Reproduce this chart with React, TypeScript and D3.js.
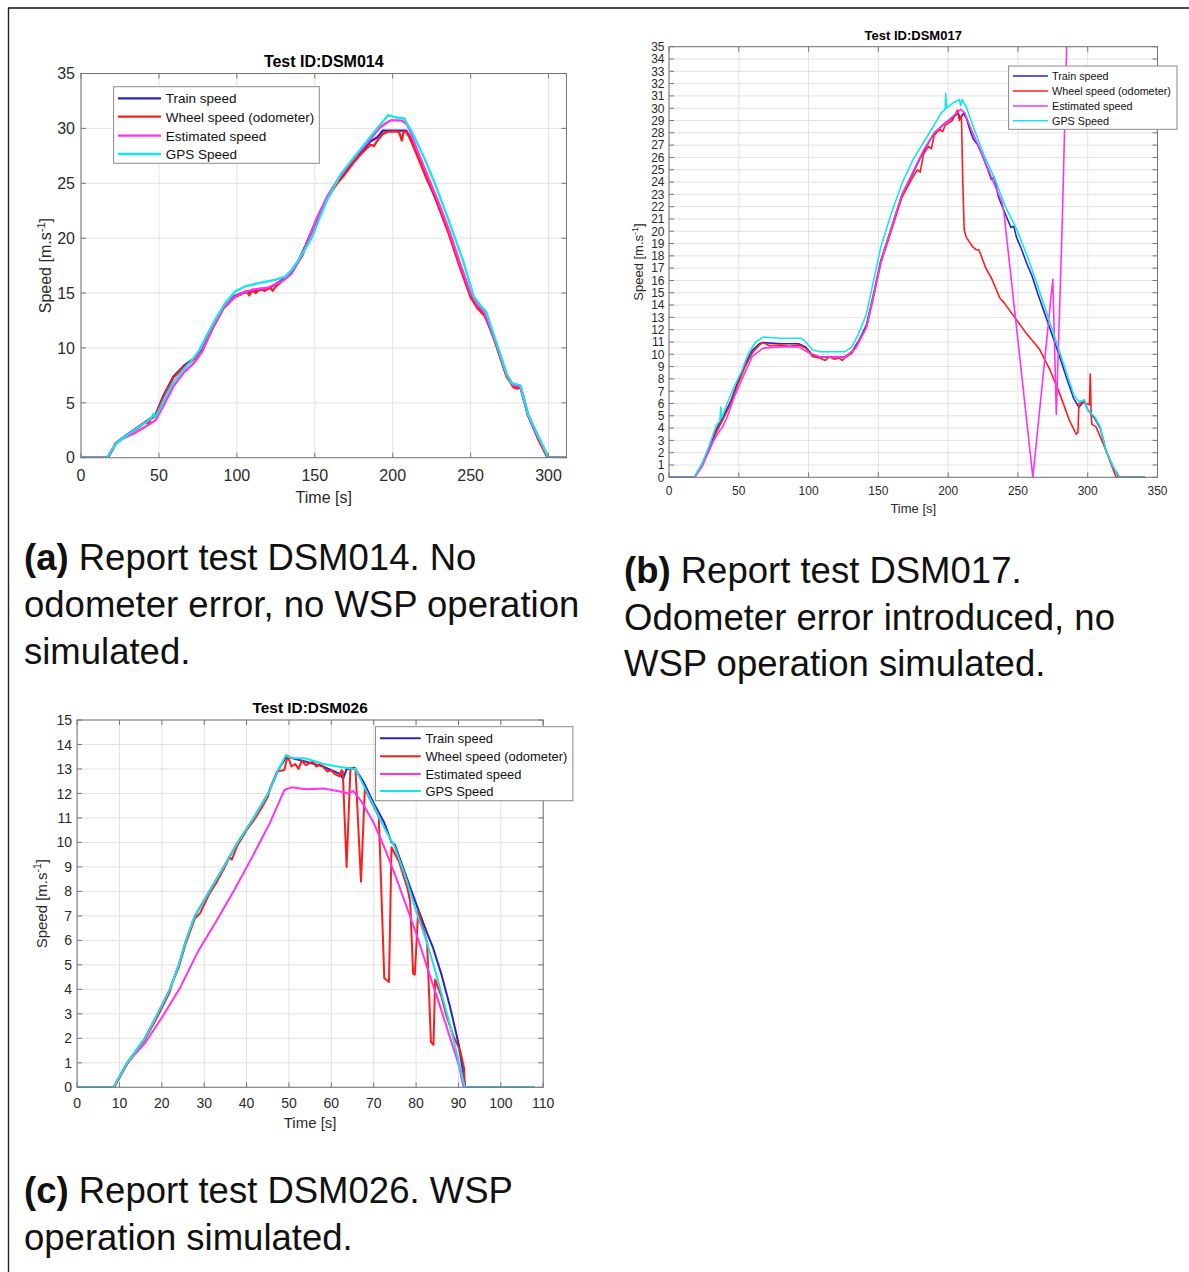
import React from 'react';
import * as d3 from 'd3';

type Pt = [number, number];

// ---------------- DATA ----------------
const seriesLabels = ['Train speed', 'Wheel speed (odometer)', 'Estimated speed', 'GPS Speed'];

// Panel (a) DSM014
const dsm014Train: Pt[] = [[0,0],[17.2,0],[22.5,1.35],[29.4,2.1],[36.3,2.75],[43.2,3.45],[47.8,3.9],[52.4,5.5],[59.3,7.4],[66.2,8.4],[73,9.1],[77.6,9.8],[84.5,11.9],[91.4,13.7],[98.3,14.7],[102.9,15.0],[112,15.2],[121.3,15.5],[128.2,16.1],[135,16.9],[139.7,18.0],[144.3,19.4],[151.2,21.7],[158,23.7],[165,25.3],[171.8,26.5],[178.7,27.7],[185.6,28.8],[190.2,29.2],[193.7,29.8],[208.6,29.8],[211,29.2],[215.5,27.7],[222.4,25.3],[229.3,23.0],[236,20.5],[243,17.5],[250,14.7],[254.5,13.7],[259,13.0],[266,10.5],[273,7.5],[277.5,6.5],[282,6.4],[286.7,3.9],[293.6,1.7],[299.5,0],[311.5,0]];
const dsm014Wheel: Pt[] = [[0,0],[17.2,0],[22.5,1.3],[29.4,2.06],[36.3,2.67],[40,3.1],[42,3.3],[43.2,3.0],[44.5,3.5],[47.8,3.8],[52.4,5.4],[59.3,7.3],[66.2,8.3],[70,8.7],[73,9.0],[77.6,9.7],[84.5,11.8],[91.4,13.6],[98.3,14.6],[102.9,14.9],[106,15.2],[108,14.8],[110,15.3],[112,15.0],[115,15.4],[118,15.2],[121.3,15.5],[123,15.2],[125,15.6],[128.2,16.0],[132,16.4],[135,16.8],[139.7,17.9],[142,18.4],[144.3,19.3],[151.2,21.6],[154,22.4],[158,23.6],[162,24.5],[165,25.1],[168,25.6],[171.8,26.3],[175,26.9],[178.7,27.5],[182,28.0],[185.6,28.5],[188,28.4],[190.2,28.9],[193.7,29.5],[197,29.7],[204,29.7],[205.8,28.9],[207,29.7],[208.6,29.7],[211,29.1],[215.5,27.6],[222.4,25.2],[226,24.2],[229.3,22.9],[236,20.4],[243,17.4],[250,14.6],[254.5,13.6],[259,12.9],[262,12.0],[266,10.4],[273,7.4],[277.5,6.4],[280,6.3],[282,6.4],[283.5,5.8],[286.7,3.9],[293.6,1.6],[299.3,0],[311.5,0]];
const dsm014Estimated: Pt[] = [[0,0],[16.8,0],[22.5,1.3],[27,1.76],[34,2.2],[40.9,2.8],[47.8,3.4],[52.4,4.6],[59.3,6.5],[66.2,7.8],[73,8.7],[77.6,9.65],[84.5,11.9],[91.4,13.7],[98.3,14.6],[102.9,15.0],[110,15.3],[120,15.5],[128,16.0],[135,16.8],[140,18.0],[145,19.5],[151.2,21.8],[158,23.8],[165,25.4],[171.8,26.7],[178.7,27.9],[185.6,29.0],[192,30.1],[197,30.6],[199,30.75],[206,30.7],[209,30.4],[211,29.8],[215.5,28.1],[222.4,25.7],[229.3,23.3],[236,20.8],[243,17.8],[250,15.0],[254.5,13.9],[259,13.2],[266,10.6],[273,7.6],[277.5,6.6],[282,6.5],[286.7,4.0],[293.6,1.8],[300,0],[311.5,0]];
const dsm014Gps: Pt[] = [[0,0],[16.8,0],[20,0.8],[23.4,1.4],[28.7,2.0],[35,2.6],[41.5,3.2],[45,3.6],[46.5,4.0],[47.5,3.7],[50,4.3],[54.3,5.6],[58.5,6.7],[64.9,7.9],[71.3,8.9],[75.5,9.7],[79.8,10.9],[86.2,12.6],[92.6,14.1],[98.9,15.15],[105.3,15.6],[113.8,15.9],[124.5,16.2],[130.9,16.5],[135.1,17.1],[139.4,18.0],[144.7,19.2],[148.9,20.3],[153,21.8],[158,23.5],[167,25.9],[178.7,28.0],[190,30.0],[197,31.2],[202,31.0],[207.4,30.9],[213,29.5],[220,27.4],[227,25.0],[236,21.6],[245,18.0],[252,14.7],[257,13.75],[260,13.3],[266,10.7],[273,7.7],[276,6.8],[282,6.6],[286.7,4.0],[293.6,1.9],[300,0],[311.5,0]];

// Panel (b) DSM017
const dsm017Train: Pt[] = [[0,0],[18.2,0],[23.8,1.1],[28.9,2.4],[34,3.9],[39.1,5.0],[44.3,6.2],[49.4,7.8],[54.5,9.2],[59.6,10.3],[64.7,10.85],[67.3,10.95],[80,10.85],[92.9,10.85],[98,10.6],[103,9.9],[108,9.8],[118.5,9.75],[126,9.8],[131,10.2],[136,11.1],[141.5,12.4],[146.6,14.9],[151.7,17.6],[159.4,20.3],[167,23.0],[174.7,24.7],[182.4,26.5],[190,28.0],[197.8,28.8],[202.9,29.2],[207,29.6],[209,29.2],[211,29.6],[213,29.2],[215.7,28.2],[218,27.5],[220.8,27.1],[224,26.3],[228.5,25.0],[231,24.2],[233,24.4],[236,22.8],[241.3,21.3],[245,20.3],[247,20.4],[249,19.5],[252,18.7],[256.6,17.3],[260,16.4],[264.3,14.9],[272,12.4],[279.6,9.9],[284.8,8.1],[290,6.4],[293.7,5.7],[297.6,6.2],[300,5.5],[305,4.8],[309,4.0],[313,2.2],[318,0.9],[322.5,0],[341,0]];
const dsm017Wheel: Pt[] = [[0,0],[18.4,0],[23.8,1.0],[28.9,2.2],[34,3.7],[39.1,4.8],[44.3,6.0],[49.4,7.6],[54.5,9.0],[59.6,10.1],[64.7,10.75],[67.3,10.95],[72,10.7],[80,10.75],[86,10.65],[92.9,10.75],[98,10.5],[103,9.8],[108,9.7],[112,9.5],[115,9.8],[118.5,9.6],[122,9.7],[124,9.5],[126,9.7],[131,10.1],[136,11.0],[141.5,12.2],[146.6,14.7],[151.7,17.4],[159.4,20.1],[167,22.8],[174.7,24.4],[178,25.0],[180,24.8],[182.4,26.3],[186,26.9],[188,26.7],[190,27.8],[194,28.3],[196,28.1],[197.8,28.6],[202.9,29.0],[206.7,29.85],[208,29.0],[209.5,29.4],[210.5,24.0],[211.5,20.1],[213,19.5],[217.8,18.7],[220,18.5],[222,18.5],[227,17.0],[229,16.6],[231,16.2],[236.9,14.6],[240,14.2],[246.4,13.2],[256,11.7],[265.5,10.4],[272.7,8.8],[279.9,6.8],[287,4.6],[291.8,3.5],[293,3.66],[293.7,6.0],[296.6,6.1],[299,6.0],[301.2,5.9],[301.8,8.4],[302.5,5.0],[303,4.3],[306,4.1],[313,2.2],[320,0.1],[321,0],[341,0]];
const dsm017Estimated: Pt[] = [[0,0],[18.4,0],[23.8,0.87],[28,2.0],[31.5,2.9],[36.6,3.85],[38,4.0],[41.7,4.9],[46.8,6.55],[51.9,7.9],[59.6,9.8],[67.3,10.5],[80,10.6],[92.9,10.6],[100.5,10.1],[108,9.8],[126,9.75],[133.8,10.5],[141.5,12.2],[146.6,14.8],[151.7,17.5],[159.4,20.3],[167,23.0],[174.7,24.8],[182.4,26.6],[190,28.0],[195.2,28.5],[200,29.0],[205,29.5],[209,29.9],[212,29.6],[215.7,28.5],[223,26.6],[231,24.4],[238.7,22.3],[240,21.5],[260.7,0],[275,16.1],[277.5,5.1],[281.8,20.9],[286,40]];
const dsm017Gps: Pt[] = [[0,0],[17.9,0],[23.8,1.14],[28.9,2.6],[34,4.25],[36.5,4.6],[37.1,5.7],[37.6,4.8],[41.7,6.0],[46.8,7.4],[51.9,8.6],[57,10.1],[62.2,11.0],[67.3,11.4],[80,11.3],[95,11.3],[98,11.0],[103,10.35],[108,10.2],[126,10.2],[131,10.6],[136,11.7],[141.5,13.3],[146.6,16.0],[151.7,18.7],[159.4,21.5],[167,23.9],[174.7,25.8],[185,27.7],[195,29.6],[197.8,29.9],[198.3,31.2],[198.8,30.0],[203,30.4],[208,30.7],[209,30.2],[210,30.7],[213,30.1],[218,28.5],[226,26.1],[233.6,24.2],[241,22.0],[249,20.2],[256.6,18.0],[264,15.6],[272,12.9],[279.6,10.3],[284.8,8.5],[290,6.7],[293.7,6.15],[297.6,6.3],[300,5.5],[305,4.9],[309,4.1],[313,2.2],[318,0.9],[323,0],[341,0]];

// Panel (c) DSM026
const dsm026Train: Pt[] = [[0,0],[8.6,0],[11.8,1],[16,2],[19,3],[21.9,4],[24,5],[25.7,6],[27.8,7],[31.2,8],[34.6,9],[37.9,10],[41.7,11],[45.1,12],[47.6,13],[49.4,13.5],[54,13.3],[58,13.1],[62,12.8],[62.8,12.6],[63.6,13.0],[65.5,13.05],[67.5,12.5],[70,11.6],[72.5,10.8],[74.2,10.0],[75,9.9],[77.5,8.7],[80,7.5],[82.6,6.3],[84,5.7],[86,4.6],[88,3.3],[90,1.8],[91.4,0.3],[91.6,0],[108,0]];
const dsm026Wheel: Pt[] = [[0,0],[8.8,0],[11.8,0.95],[16,1.95],[19,2.9],[21.9,3.9],[22.5,4.3],[24,4.9],[25.7,5.9],[27.8,6.9],[29,7.1],[31.2,7.9],[33,8.4],[34.6,8.9],[36,9.4],[36.5,9.3],[37.9,9.9],[40,10.5],[41.7,10.9],[43.5,11.4],[45.1,11.9],[45.5,12.2],[47.2,12.9],[48.9,12.96],[49.7,13.55],[50.6,13.1],[51.5,13.2],[52.3,13.0],[53,13.35],[54,13.16],[55.6,13.3],[56.5,13.1],[57.3,13.2],[58,13.1],[59,12.9],[60,12.95],[60.7,12.8],[62,12.7],[62.4,12.95],[62.7,12.9],[63.6,9.0],[64.5,13.0],[65.7,13.0],[67,8.4],[67.9,12.2],[69,11.8],[71.2,11.05],[72.5,4.45],[73.6,4.3],[74.2,9.8],[76,9.2],[78,8.1],[78.6,7.6],[79.3,4.65],[79.7,4.6],[80.5,7.2],[81.5,6.6],[82.6,5.9],[83.5,1.86],[84.1,1.73],[84.5,4.4],[86,3.7],[87.2,2.9],[88.8,2.1],[90.4,1.5],[91.3,0.8],[91.5,0],[108,0]];
const dsm026Estimated: Pt[] = [[0,0],[8.6,0],[11.8,1.0],[16,1.8],[20.2,2.9],[24.4,4.1],[28.7,5.6],[32.9,6.8],[37.1,8.06],[41.3,9.4],[45.5,10.8],[48.9,12.14],[50.6,12.25],[54,12.17],[58.2,12.2],[62.4,12.07],[64,12.0],[65.2,12.1],[67,11.7],[70,10.8],[72.5,9.8],[75,8.7],[77.5,7.5],[80,6.3],[82.6,4.9],[85.1,3.6],[87.7,2.2],[90.2,0.84],[91.2,0],[108,0]];
const dsm026Gps: Pt[] = [[0,0],[8.6,0],[11.8,1],[16,2],[19,3],[21.9,4],[24,5],[25.7,6],[27.8,7],[31.2,8],[34.6,9],[37.9,10],[41.7,11],[45.1,12],[47.6,13],[49.3,13.57],[50.5,13.45],[54,13.43],[58.2,13.2],[62.4,13.07],[65.7,13.0],[67.4,12.4],[70,11.5],[72.5,10.6],[75,9.8],[77.5,8.6],[80,7.2],[82.6,5.9],[85.1,4.4],[87.7,2.75],[89.8,1.25],[91.5,0],[108,0]];

const ticksA_x = [0, 50, 100, 150, 200, 250, 300];
const ticksA_y = [0, 5, 10, 15, 20, 25, 30, 35];
const ticksB_x = [0, 50, 100, 150, 200, 250, 300, 350];
const ticksB_y = d3.range(0, 36, 1);
const ticksC_x = [0, 10, 20, 30, 40, 50, 60, 70, 80, 90, 100, 110];
const ticksC_y = d3.range(0, 16, 1);

// ---------------- STYLE ----------------
const FONT = "'Liberation Sans', Arial, Helvetica, sans-serif";
const seriesColors = ['#2424c8', '#ff1c1c', '#ff33ee', '#14e6ea'];

interface PanelCfg {
  id: string;
  title: string;
  series: Pt[][];
  xDomain: [number, number];
  yDomain: [number, number];
  xTicks: number[];
  yTicks: number[];
  left: number; right: number; top: number; bottom: number;
  tickFont: number; labelFont: number; titleFont: number; legendFont: number;
  titleY: number; xTickY: number; yTickGap: number; xLabelY: number; yLabelX: number;
  tickLen: number; lineW: number;
  legend: { x0: number; x1: number; y0: number; y1: number; rows: number[]; lx0: number; lx1: number; tx: number };
}

function Panel({ c }: { c: PanelCfg }) {
  const x = d3.scaleLinear().domain(c.xDomain).range([c.left, c.right]);
  const y = d3.scaleLinear().domain(c.yDomain).range([c.bottom, c.top]);
  const line = d3.line<Pt>().x(d => x(d[0])).y(d => y(d[1]));
  const axisCol = '#767676';
  const gridCol = '#e2e2e2';
  const cx = (c.left + c.right) / 2;
  const cy = (c.top + c.bottom) / 2;
  return (
    <g fontFamily={FONT}>
      <defs>
        <clipPath id={`clip-${c.id}`}>
          <rect x={c.left} y={c.top} width={c.right - c.left} height={c.bottom - c.top} />
        </clipPath>
      </defs>
      <rect x={c.left} y={c.top} width={c.right - c.left} height={c.bottom - c.top} fill="#fff" />
      {c.xTicks.map(t => (
        <line key={`gx${t}`} x1={x(t)} x2={x(t)} y1={c.top} y2={c.bottom} stroke={gridCol} strokeWidth={1} />
      ))}
      {c.yTicks.map(t => (
        <line key={`gy${t}`} x1={c.left} x2={c.right} y1={y(t)} y2={y(t)} stroke={gridCol} strokeWidth={1} />
      ))}
      <g clipPath={`url(#clip-${c.id})`}>
        {c.series.map((s, i) => (
          <path key={i} d={line(s) || ''} fill="none" stroke={seriesColors[i]} strokeWidth={c.lineW} strokeLinejoin="round" />
        ))}
      </g>
      {c.xTicks.map(t => (
        <g key={`tx${t}`}>
          <line x1={x(t)} x2={x(t)} y1={c.bottom} y2={c.bottom - c.tickLen} stroke={axisCol} />
          <line x1={x(t)} x2={x(t)} y1={c.top} y2={c.top + c.tickLen} stroke={axisCol} />
          <text x={x(t)} y={c.xTickY} textAnchor="middle" fontSize={c.tickFont} fill="#2a2a2a">{t}</text>
        </g>
      ))}
      {c.yTicks.map(t => (
        <g key={`ty${t}`}>
          <line x1={c.left} x2={c.left + c.tickLen} y1={y(t)} y2={y(t)} stroke={axisCol} />
          <line x1={c.right} x2={c.right - c.tickLen} y1={y(t)} y2={y(t)} stroke={axisCol} />
          <text x={c.left - c.yTickGap} y={y(t)} dy="0.36em" textAnchor="end" fontSize={c.tickFont} fill="#2a2a2a">{t}</text>
        </g>
      ))}
      <rect x={c.left} y={c.top} width={c.right - c.left} height={c.bottom - c.top} fill="none" stroke={axisCol} strokeWidth={1} />
      <text x={cx} y={c.titleY} textAnchor="middle" fontSize={c.titleFont} fontWeight="bold" fill="#000">{c.title}</text>
      <text x={cx} y={c.xLabelY} textAnchor="middle" fontSize={c.labelFont} fill="#2a2a2a">Time [s]</text>
      <text transform={`translate(${c.yLabelX},${cy}) rotate(-90)`} textAnchor="middle" fontSize={c.labelFont} fill="#2a2a2a">
        <tspan>Speed [m.s</tspan>
        <tspan dy={-c.labelFont * 0.4} fontSize={c.labelFont * 0.7}>-1</tspan>
        <tspan dy={c.labelFont * 0.4}>]</tspan>
      </text>
      <rect x={c.legend.x0} y={c.legend.y0} width={c.legend.x1 - c.legend.x0} height={c.legend.y1 - c.legend.y0} fill="#fff" stroke="#8a8a8a" strokeWidth={1} />
      {seriesLabels.map((lab, i) => (
        <g key={lab}>
          <line x1={c.legend.lx0} x2={c.legend.lx1} y1={c.legend.rows[i]} y2={c.legend.rows[i]} stroke={seriesColors[i]} strokeWidth={c.lineW} />
          <text x={c.legend.tx} y={c.legend.rows[i]} dy="0.36em" fontSize={c.legendFont} fill="#111">{lab}</text>
        </g>
      ))}
    </g>
  );
}

const panelA: PanelCfg = {
  id: 'a', title: 'Test ID:DSM014',
  series: [dsm014Train, dsm014Wheel, dsm014Estimated, dsm014Gps],
  xDomain: [0, 311.5], yDomain: [0, 35], xTicks: ticksA_x, yTicks: ticksA_y,
  left: 81, right: 566.5, top: 73.5, bottom: 457.7,
  tickFont: 16, labelFont: 16, titleFont: 16, legendFont: 13.5,
  titleY: 66.5, xTickY: 481, yTickGap: 6, xLabelY: 503, yLabelX: 51,
  tickLen: 5, lineW: 2.3,
  legend: { x0: 113.6, x1: 319.3, y0: 86.7, y1: 163.3, rows: [98.3, 116.7, 135.7, 154], lx0: 118, lx1: 161, tx: 165.7 },
};

const panelB: PanelCfg = {
  id: 'b', title: 'Test ID:DSM017',
  series: [dsm017Train, dsm017Wheel, dsm017Estimated, dsm017Gps],
  xDomain: [0, 350], yDomain: [0, 35], xTicks: ticksB_x, yTicks: ticksB_y,
  left: 669, right: 1157.5, top: 46.7, bottom: 477.3,
  tickFont: 12, labelFont: 13, titleFont: 13, legendFont: 10.8,
  titleY: 40, xTickY: 495, yTickGap: 4.5, xLabelY: 513, yLabelX: 643,
  tickLen: 5, lineW: 1.6,
  legend: { x0: 1008.6, x1: 1177, y0: 66, y1: 129.3, rows: [76, 91, 106, 120.7], lx0: 1012.9, lx1: 1047.9, tx: 1052 },
};

const panelC: PanelCfg = {
  id: 'c', title: 'Test ID:DSM026',
  series: [dsm026Train, dsm026Wheel, dsm026Estimated, dsm026Gps],
  xDomain: [0, 110], yDomain: [0, 15], xTicks: ticksC_x, yTicks: ticksC_y,
  left: 77.1, right: 543.2, top: 720, bottom: 1087.3,
  tickFont: 14, labelFont: 15, titleFont: 15.4, legendFont: 12.9,
  titleY: 712.5, xTickY: 1108, yTickGap: 5, xLabelY: 1128, yLabelX: 47,
  tickLen: 5, lineW: 2,
  legend: { x0: 375.4, x1: 572.9, y0: 726.7, y1: 800.7, rows: [738.3, 756.3, 774, 791], lx0: 380, lx1: 420.7, tx: 425.4 },
};

const captionA = ['Report test DSM014. No', 'odometer error, no WSP operation', 'simulated.'];
const captionB = ['Report test DSM017.', 'Odometer error introduced, no', 'WSP operation simulated.'];
const captionC = ['Report test DSM026. WSP', 'operation simulated.'];

function Caption({ label, lines, x, y0, step }: { label: string; lines: string[]; x: number; y0: number; step: number }) {
  return (
    <g fontFamily={FONT} fontSize={36.5} fill="#111">
      {lines.map((ln, i) => (
        <text key={i} x={x} y={y0 + i * step}>
          {i === 0 ? <tspan fontWeight="bold">{label}</tspan> : null}
          {i === 0 ? ' ' + ln : ln}
        </text>
      ))}
    </g>
  );
}

export default function App() {
  return (
    <svg width={1189} height={1272} style={{ position: 'absolute', left: 0, top: 0, background: '#fff' }}>
      <rect x={0} y={0} width={1189} height={1272} fill="#fff" />
      <line x1={8} x2={1189} y1={8} y2={8} stroke="#4a4a4a" strokeWidth={2} />
      <line x1={8.5} x2={8.5} y1={8} y2={1272} stroke="#222" strokeWidth={1.4} />
      <Panel c={panelA} />
      <Panel c={panelB} />
      <Panel c={panelC} />
      <Caption label="(a)" lines={captionA} x={24} y0={569.5} step={47} />
      <Caption label="(b)" lines={captionB} x={624} y0={583} step={46.5} />
      <Caption label="(c)" lines={captionC} x={24} y0={1203.3} step={47} />
    </svg>
  );
}
